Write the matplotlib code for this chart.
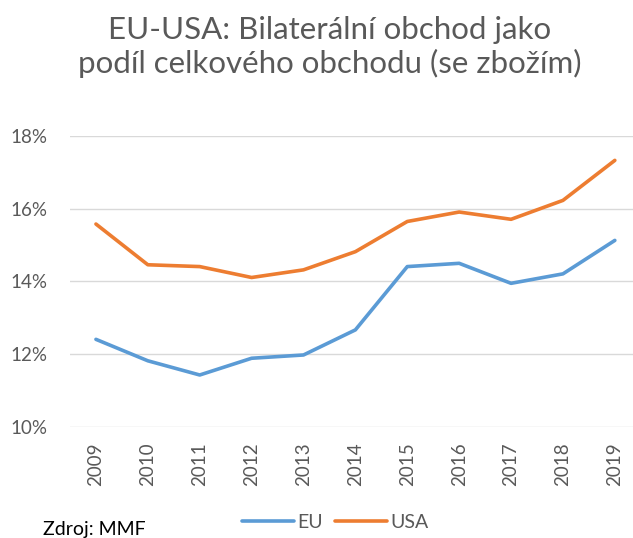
import matplotlib.pyplot as plt
from matplotlib.ticker import FuncFormatter

years = ["2009", "2010", "2011", "2012", "2013", "2014", "2015", "2016", "2017", "2018", "2019"]
eu = [12.41, 11.82, 11.43, 11.89, 11.98, 12.67, 14.41, 14.50, 13.95, 14.21, 15.13]
usa = [15.58, 14.46, 14.41, 14.11, 14.32, 14.82, 15.65, 15.91, 15.71, 16.23, 17.33]
yticks = [10, 12, 14, 16, 18]

plt.rcParams["font.family"] = ["Lato", "DejaVu Sans"]
grey = "#595959"

fig = plt.figure(figsize=(6.33, 5.38), dpi=100)
W, H = 633, 538
ax = fig.add_axes([70 / W, 111 / H, 563 / W, 291 / H])

x = range(len(years))
ax.plot(x, eu, color="#5b9bd5", lw=2.6, label="EU", solid_capstyle="round")
ax.plot(x, usa, color="#ed7d31", lw=2.6, label="USA", solid_capstyle="round")

ax.set_xlim(-0.5, 10.35)
ax.set_ylim(10, 18)
ax.set_yticks(yticks)
ax.yaxis.set_major_formatter(FuncFormatter(lambda v, p: f"{v:.0f}%"))
ax.set_xticks(list(x))
ax.set_xticklabels(years, rotation=90)
ax.grid(axis="y", color="#d9d9d9", lw=1)
ax.set_axisbelow(True)
for s in ax.spines.values():
    s.set_visible(False)
ax.tick_params(length=0, labelsize=13.5, colors=grey)
ax.tick_params(axis="x", pad=11)
ax.tick_params(axis="y", pad=16)

fig.text(330 / W, 1 - 47 / H, "EU-USA: Bilaterální obchod jako\npodíl celkového obchodu (se zbožím)",
         ha="center", va="center", fontsize=22.5, color=grey, linespacing=1.22)
fig.text(43 / W, 1 - 529 / H, "Zdroj: MMF", ha="left", va="center", fontsize=14, color="black")

fig.legend(loc="center", bbox_to_anchor=(335 / W, 1 - 522 / H), ncol=2, frameon=False,
           fontsize=14, handlelength=2.7, columnspacing=0.6, handletextpad=0.15, labelcolor=grey)

fig.savefig("out.png", dpi=100)
